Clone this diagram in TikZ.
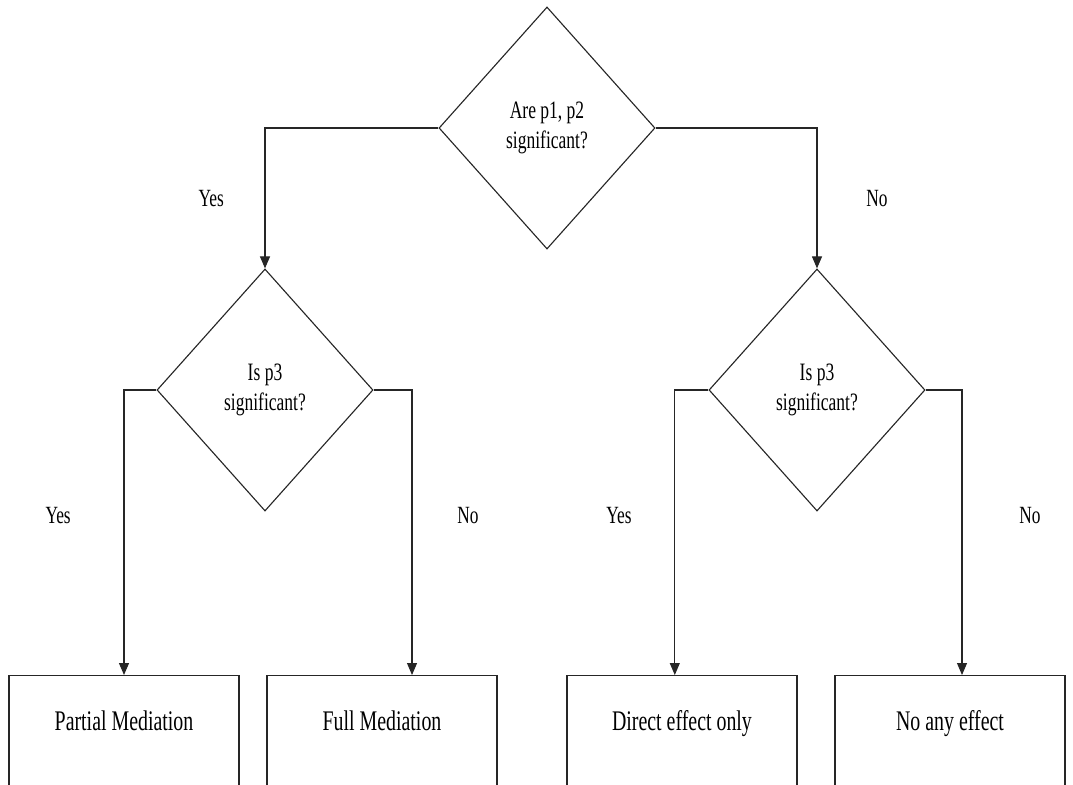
\documentclass[tikz,border=0pt]{standalone}
\usepackage{fontspec}
\setmainfont{Liberation Serif}[FakeStretch=0.7]
\usetikzlibrary{arrows.meta,shapes.geometric}

\begin{document}
\begin{tikzpicture}[x=0.025cm, y=-0.025cm,
  decision/.style={draw=black!85, line width=0.8pt, diamond, minimum width=5.4cm,
    minimum height=6.05cm, inner sep=0pt, align=center,
    font=\fontsize{17.8}{21.3}\selectfont},
  outcome/.style={draw=black!85, line width=0.8pt, rectangle, anchor=north,
    minimum width=5.75cm, minimum height=3.25cm, text height=0.5cm, text depth=1cm,
    font=\fontsize{20.2}{24}\selectfont},
  flow/.style={draw=black!85, line width=0.8pt, -{Triangle[length=0.3cm, width=0.25cm]}},
  answer/.style={font=\fontsize{17.6}{21}\selectfont}]
  \useasboundingbox (0,0) rectangle (1073,784);
  \clip (0,0) rectangle (1073,784);

  % Decision diamonds
  \node[decision] (pboth) at (547,128) {Are p1, p2\\significant?};
  \node[decision] (pleft) at (265,390) {Is p3\\significant?};
  \node[decision] (pright) at (817,390) {Is p3\\significant?};

  % Outcome boxes
  \node[outcome] (partial) at (124,675) {Partial Mediation};
  \node[outcome] (full) at (382,675) {Full Mediation};
  \node[outcome] (direct) at (682,675) {Direct effect only};
  \node[outcome] (none) at (950,675) {No any effect};

  % Arrows
  \draw[flow] (pboth.west) -| (pleft.north)
    node[answer, pos=0.75, left=0.9cm] {Yes};
  \draw[flow] (pboth.east) -| (pright.north)
    node[answer, pos=0.75, right=1.1cm] {No};
  \draw[flow] (pleft.west) -| (partial.north)
    node[answer, pos=0.72, left=1.2cm] {Yes};
  \draw[flow] (pleft.east) -| ([xshift=0.75cm]full.north)
    node[answer, pos=0.72, right=1cm] {No};
  \draw[flow] (pright.west) -| ([xshift=-0.18cm]direct.north)
    node[answer, pos=0.72, left=0.95cm] {Yes};
  \draw[flow] (pright.east) -| ([xshift=0.3cm]none.north)
    node[answer, pos=0.72, right=1.3cm] {No};
\end{tikzpicture}
\end{document}
